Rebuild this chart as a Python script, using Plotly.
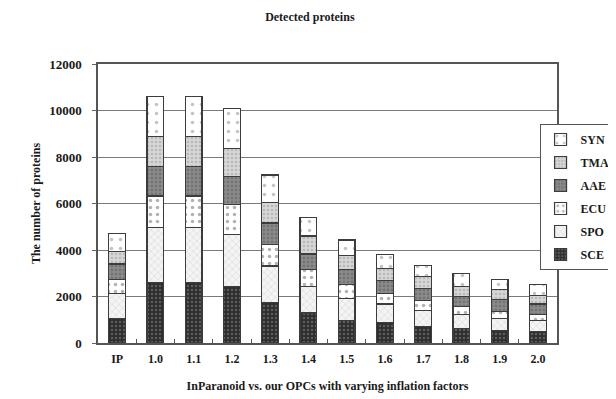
import plotly.graph_objects as go

categories = ["IP", "1.0", "1.1", "1.2", "1.3", "1.4", "1.5", "1.6", "1.7", "1.8", "1.9", "2.0"]
SCE = [1070, 2600, 2600, 2430, 1730, 1290, 960, 890, 715, 615, 530, 500]
SPO = [1070, 2360, 2370, 2240, 1580, 1140, 970, 785, 685, 600, 540, 460]
ECU = [600, 1360, 1350, 1290, 940, 740, 600, 470, 415, 360, 290, 260]
AAE = [660, 1260, 1260, 1190, 910, 660, 640, 545, 545, 430, 500, 455]
TMA = [530, 1290, 1300, 1210, 900, 770, 590, 530, 500, 430, 430, 370]
SYN = [785, 1720, 1730, 1740, 1170, 800, 670, 570, 470, 540, 430, 460]
y_ticks = [0, 2000, 4000, 6000, 8000, 10000, 12000]

series = [
    ("SCE", SCE, dict(bg="#2e2e2e", fg="#8a8a8a", shape=".", size=4, sol=0.3)),
    ("SPO", SPO, dict(bg="#f4f4f4", fg="#a0a0a0", shape="x", size=5, sol=0.15)),
    ("ECU", ECU, dict(bg="#ffffff", fg="#666666", shape=".", size=7, sol=0.2)),
    ("AAE", AAE, dict(bg="#8c8c8c", fg="#5a5a5a", shape=".", size=4, sol=0.4)),
    ("TMA", TMA, dict(bg="#d6d6d6", fg="#9a9a9a", shape=".", size=4, sol=0.35)),
    ("SYN", SYN, dict(bg="#ffffff", fg="#888888", shape=".", size=9, sol=0.12)),
]

fig = go.Figure()
for i, (name, vals, st) in enumerate(series):
    fig.add_trace(go.Bar(
        x=categories, y=vals, name=name, legendgroup=name,
        legendrank=1000 - i,
        marker=dict(
            color=st["bg"],
            line=dict(color="#3c3c3c", width=1.2),
            pattern=dict(shape=st["shape"], bgcolor=st["bg"], fgcolor=st["fg"],
                         size=st["size"], solidity=st["sol"], fillmode="overlay"),
        ),
    ))

font = dict(family="Liberation Serif, Times New Roman, serif", color="#1a1a1a", weight="bold")

fig.update_layout(
    barmode="stack",
    bargap=0.56,
    width=616, height=399,
    margin=dict(l=90, r=67, t=56, b=64, autoexpand=False),
    paper_bgcolor="white", plot_bgcolor="white",
    font=dict(**font, size=12),
    title=dict(text="Detected proteins", x=0.49, xanchor="center",
               y=0.988, yanchor="top", font=dict(**font, size=12)),
    legend=dict(
        x=0.962, y=0.785, xanchor="left", yanchor="top",
        traceorder="grouped", tracegroupgap=4,
        bordercolor="#555555", borderwidth=1, bgcolor="white",
        font=dict(**font, size=12), itemwidth=30,
    ),
    xaxis=dict(
        title=dict(text="InParanoid vs. our OPCs with varying inflation factors",
                   font=dict(**font, size=12), standoff=16),
        tickfont=dict(**font, size=12),
        ticks="inside", tickson="boundaries", ticklen=4, tickcolor="#555",
        showline=True, linecolor="#555555", linewidth=1.5, mirror=True,
        ticklabelstandoff=4,
    ),
    yaxis=dict(
        title=dict(text="The number of proteins", font=dict(**font, size=12), standoff=6),
        range=[0, 12000], tickvals=y_ticks,
        ticktext=[str(v) for v in y_ticks],
        tickfont=dict(**font, size=13),
        ticks="outside", ticklen=4, tickcolor="#666",
        ticklabelstandoff=8,
        showgrid=True, gridcolor="#7a7a7a", gridwidth=1,
        showline=True, linecolor="#555555", linewidth=1.5, mirror=True,
        zeroline=False,
    ),
)

fig.write_html("out.html")
